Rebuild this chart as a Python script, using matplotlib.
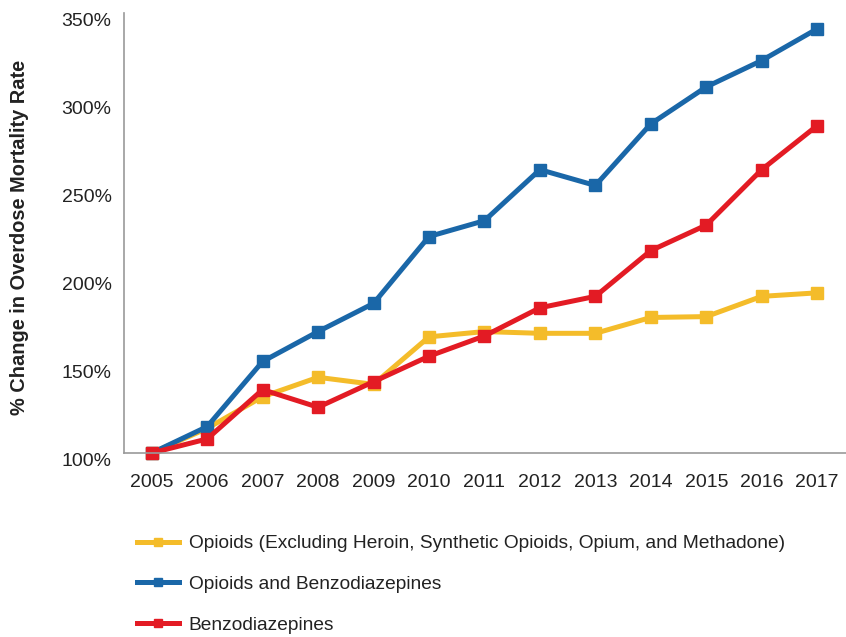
import numpy as np
import matplotlib
matplotlib.use("Agg")
import matplotlib.pyplot as plt
from matplotlib.transforms import ScaledTranslation

plt.rcParams['font.family'] = ['Liberation Sans', 'DejaVu Sans']

years = [2005, 2006, 2007, 2008, 2009, 2010, 2011, 2012, 2013, 2014, 2015, 2016, 2017]
opioids = [100, 114, 132, 143, 139, 166, 169, 168, 168, 177, 177.5, 189, 191]
opioids_benzo = [100, 115, 152, 169, 185, 223, 232, 261, 252, 287, 308, 323, 341]
benzo = [100, 108, 136, 126, 140.5, 155, 166.5, 182.5, 189, 215, 229.5, 261, 286]
yticks = [100, 150, 200, 250, 300, 350]

labels = ['Opioids (Excluding Heroin, Synthetic Opioids, Opium, and Methadone)',
          'Opioids and Benzodiazepines',
          'Benzodiazepines']
colors = ['#f4bc2a', '#1a67a8', '#e31b24']

fig = plt.figure(figsize=(8.46, 6.37), dpi=100)
ax = fig.add_axes([124/846, 184/637, 722/846, 440/637])

for vals, lab, col in zip([opioids, opioids_benzo, benzo], labels, colors):
    ax.plot(years, vals, color=col, lw=3.6, marker='s', markersize=8.5,
            label=lab, clip_on=False, solid_joinstyle='miter')

ax.set_xlim(2004.5, 2017.52)
ax.set_ylim(100, 350)
ax.set_xticks(years)
ax.set_yticks(yticks)
ax.set_yticklabels([f'{v}%' for v in yticks])
ax.tick_params(length=0, labelsize=14, labelcolor='#222222')
ax.tick_params(axis='x', pad=15)
ax.tick_params(axis='y', pad=9)

# y tick labels sit a bit below their gridline positions in the original
off = ScaledTranslation(0, -6/100, fig.dpi_scale_trans)
for t in ax.get_yticklabels():
    t.set_transform(t.get_transform() + off)

for s in ['top', 'right']:
    ax.spines[s].set_visible(False)
for s in ['left', 'bottom']:
    ax.spines[s].set_color('#999999')
    ax.spines[s].set_linewidth(1.2)

ax.set_ylabel('% Change in Overdose Mortality Rate', fontsize=14.4, fontweight='bold',
              color='#222222')
ax.yaxis.set_label_coords(-0.132, 0.49)

leg = fig.legend(loc='upper left', bbox_to_anchor=(137/846, 1 - 535/637),
                 frameon=False, fontsize=13.8, borderpad=0, borderaxespad=0,
                 handlelength=2.2, handletextpad=0.5, labelspacing=1.21,
                 markerscale=0.7)
for t in leg.get_texts():
    t.set_color('#222222')

fig.savefig('out.png', dpi=100)
